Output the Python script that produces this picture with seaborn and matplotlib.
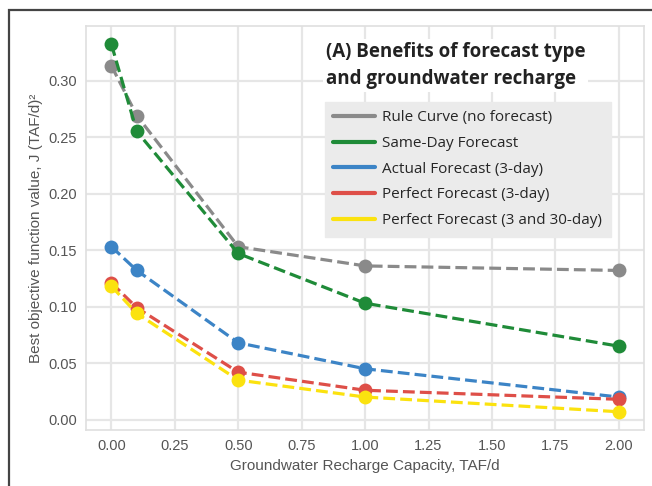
import matplotlib
matplotlib.use("Agg")
import matplotlib.pyplot as plt
from matplotlib.lines import Line2D
from matplotlib.patches import Rectangle
import pandas as pd
import seaborn as sns

# recharge capacity (TAF/d) on the x axis
recharge = [0.0, 0.1, 0.5, 1.0, 2.0]

# best objective value per forecast type
rule_curve = [0.313, 0.269, 0.153, 0.136, 0.132]
same_day = [0.332, 0.255, 0.147, 0.103, 0.065]
actual_3day = [0.153, 0.132, 0.068, 0.045, 0.020]
perfect_3day = [0.121, 0.099, 0.042, 0.026, 0.018]
perfect_3_30day = [0.118, 0.094, 0.035, 0.020, 0.007]

series_names = [
    "Rule Curve (no forecast)",
    "Same-Day Forecast",
    "Actual Forecast (3-day)",
    "Perfect Forecast (3-day)",
    "Perfect Forecast (3 and 30-day)",
]
series_values = [rule_curve, same_day, actual_3day, perfect_3day, perfect_3_30day]
colors = ["#8a8a8a", "#1f8b38", "#3c84c6", "#de4f48", "#fbe20f"]

rows = []
for name, vals in zip(series_names, series_values):
    for x, v in zip(recharge, vals):
        rows.append({"recharge": x, "J": v, "forecast": name})
df = pd.DataFrame(rows)

sns.set_theme(style="whitegrid", rc={"grid.color": "#e6e6e6", "grid.linewidth": 1.6,
                                     "axes.edgecolor": "#e0e0e0"})
plt.rcParams["font.family"] = ["Liberation Sans", "DejaVu Sans"]

fig = plt.figure(figsize=(6.52, 4.86), dpi=100)
ax = fig.add_axes([0.132, 0.115, 0.856, 0.8315])

palette = dict(zip(series_names, colors))
sns.lineplot(data=df, x="recharge", y="J", hue="forecast", palette=palette,
             marker="o", markersize=10, markeredgewidth=0, linewidth=2.3,
             linestyle="--", legend=False, ax=ax)

ax.set_xticks([0, 0.25, 0.5, 0.75, 1.0, 1.25, 1.5, 1.75, 2.0])
ax.set_yticks([0, 0.05, 0.10, 0.15, 0.20, 0.25, 0.30])
ax.xaxis.set_major_formatter(matplotlib.ticker.FormatStrFormatter("%.2f"))
ax.yaxis.set_major_formatter(matplotlib.ticker.FormatStrFormatter("%.2f"))
ax.tick_params(labelsize=10.5, labelcolor="#555555", length=3, color="#dddddd")
ax.set_xlabel("Groundwater Recharge Capacity, TAF/d", fontsize=11, color="#555555")
ax.set_ylabel("Best objective function value, J (TAF/d)²", fontsize=11, color="#555555")

# legend: solid lines, grey box; title drawn separately on white
handles = [Line2D([0], [0], color=c, lw=3) for c in colors]
leg = ax.legend(handles, series_names, loc="upper left",
                bbox_to_anchor=(325 / 652, 1 - 102 / 486), bbox_transform=fig.transFigure,
                borderaxespad=0, frameon=True, fancybox=False, handlelength=2.75,
                handletextpad=0.45, labelspacing=0.7, borderpad=0.55,
                prop={"family": "Open Sans", "size": 11})
leg.get_frame().set_facecolor("#ebebeb")
leg.get_frame().set_edgecolor("#ebebeb")
leg.get_frame().set_alpha(1)

fig.text(326 / 652, 1 - 42 / 486, "(A) Benefits of forecast type\nand groundwater recharge",
         ha="left", va="top", fontsize=13.5, fontweight="bold", family="Open Sans",
         color="#222222", linespacing=1.45,
         bbox=dict(facecolor="white", edgecolor="none", pad=2))

# thin frame around the figure (cut off on the right and bottom)
fig.patches.append(Rectangle((9 / 652, -0.1), 1.2, 1 - 10 / 486 + 0.1,
                             transform=fig.transFigure, fill=False,
                             edgecolor="#444444", linewidth=1.6))

fig.savefig("out.png", dpi=100)
